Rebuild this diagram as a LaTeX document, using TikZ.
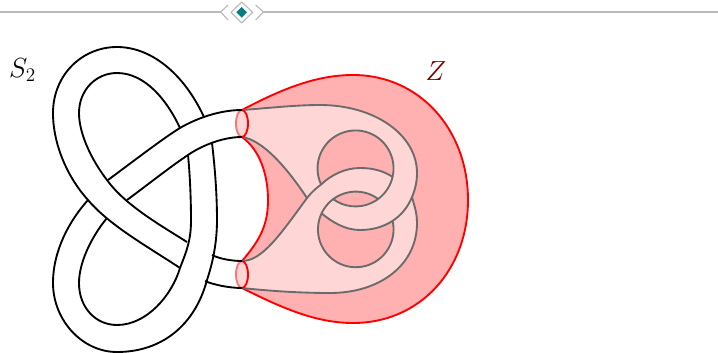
\documentclass[tikz,border=0pt]{standalone}
\usepackage{amsmath,amssymb}
\usepackage{xcolor}
\usepackage{tikz}
\usetikzlibrary{arrows.meta,calc}
\colorlet{zonefill}{red!31}
\colorlet{bandfill}{red!16}
\colorlet{bandline}{black!58}
\colorlet{orngray}{black!27}
\begin{document}
\begin{tikzpicture}[x=0.75pt,y=-0.75pt,line join=round,
  knotline/.style={line width=1.4pt,black},
  edgeline/.style={line width=1.4pt,bandline},
  zoneline/.style={line width=1.4pt,red},
  ringback/.style={line width=1.4pt,red!55},
  ornline/.style={line width=0.85pt,orngray}]
  \useasboundingbox (0,0) rectangle (718,353);
  \coordinate (RUt) at (242.000,110.000);
  \coordinate (RUb) at (242.000,137.000);
  \coordinate (RLt) at (242.000,261.000);
  \coordinate (RLb) at (242.000,288.000);
  \coordinate (CrA) at (307.000,198.000);
  \coordinate (CrB) at (321.100,184.500);
  \coordinate (CrC) at (392.600,177.000);
  \coordinate (CrD) at (412.000,197.000);
  \coordinate (CrE) at (392.400,221.000);
  \coordinate (CrF) at (321.400,213.200);
  \coordinate (LeL) at (332.800,199.000);
  \coordinate (LeR) at (378.200,199.000);
  \fill[zonefill] (RUt) .. controls (280,90) and (315,75) .. (353,75)
    .. controls (420,75) and (468,130) .. (468,200)
    .. controls (468,270) and (420,323) .. (353,323)
    .. controls (315,323) and (280,307) .. (RLb) -- (RLt)
    .. controls (260,240) and (268,225) .. (268,200)
    .. controls (268,175) and (260,150) .. (RUb) -- cycle;
  \draw[zoneline] (RUt) .. controls (280,90) and (315,75) .. (353,75)
    .. controls (420,75) and (468,130) .. (468,200)
    .. controls (468,270) and (420,323) .. (353,323)
    .. controls (315,323) and (280,307) .. (RLb);
  \draw[zoneline] (RLt) .. controls (260,240) and (268,225) .. (268,200)
    .. controls (268,175) and (260,150) .. (RUb);
  \draw[edgeline,fill=bandfill] (RUt) .. controls (270,108) and (295,105) .. (320,105)
    .. controls (375,105) and (417,135) .. (417,173)
    .. controls (417,182) and (415,190) .. (CrD)
    .. controls (414,205) and (417,212) .. (417,223)
    .. controls (417,265) and (380,293) .. (330,293)
    .. controls (300,293) and (270,291) .. (RLb) -- (RLt)
    .. controls (262,261) and (280,235) .. (CrA)
    .. controls (285,165) and (262,140) .. (RUb) -- cycle;
  \fill[zonefill] (CrB) arc (155:372.9:38) -- (CrC)
    .. controls (384,171) and (373,168) .. (360,168)
    .. controls (345,168) and (331,175) .. (CrB) -- cycle;
  \fill[zonefill] (LeL) arc (233.6:306.4:37.8) -- (LeR) arc (53.3:126.7:38) -- cycle;
  \fill[zonefill] (CrF) arc (205.6:-13:37.8) -- (CrE)
    .. controls (383.5,226.75) and (372.5,230) .. (360,230)
    .. controls (345,230) and (332,222) .. (CrF) -- cycle;
  \draw[edgeline] (CrA) .. controls (311,193) and (315,189) .. (CrB)
    .. controls (331,175) and (345,168) .. (360,168)
    .. controls (373,168) and (384,171) .. (CrC);
  \draw[edgeline] (CrD) .. controls (408,207) and (401.25,215.25) .. (CrE)
    .. controls (383.5,226.75) and (372.5,230) .. (360,230)
    .. controls (345,230) and (332,222) .. (CrF);
  \draw[edgeline] (CrB) arc (155:486.7:38);
  \draw[edgeline] (LeR) arc (306.4:-13:37.8);
  \fill[bandfill] (RUt) arc (270:630:6 and 13.5);
  \fill[bandfill] (RLt) arc (270:630:6 and 13.5);
  \draw[ringback] (RUt) arc (270:90:6 and 13.5);
  \draw[ringback] (RLt) arc (270:90:6 and 13.5);
  \draw[zoneline] (RUt) arc (270:450:6 and 13.5);
  \draw[zoneline] (RLt) arc (270:450:6 and 13.5);
  \draw[knotline] (204,117) .. controls (183,72) and (150,47) .. (117,47)
    .. controls (82,47) and (53,75) .. (53,113)
    .. controls (53,145) and (68,178) .. (88,200)
    .. controls (110,226) and (150,248) .. (180,268);
  \draw[knotline] (180,128) .. controls (167,100) and (145,73) .. (117,73)
    .. controls (96,73) and (79,90) .. (79,113)
    .. controls (79,135) and (93,162) .. (107,180)
    .. controls (125,205) and (160,225) .. (187,242);
  \draw[knotline] (88,200) .. controls (70,220) and (53,250) .. (53,283)
    .. controls (53,320) and (82,352) .. (117,352)
    .. controls (162,352) and (195,325) .. (207,280)
    .. controls (213,262) and (217,242) .. (217,220)
    .. controls (217,195) and (215,168) .. (212,143);
  \draw[knotline] (107,218) .. controls (92,236) and (79,262) .. (79,283)
    .. controls (79,308) and (96,325) .. (117,325)
    .. controls (147,325) and (172,295) .. (180,268)
    .. controls (187,250) and (191,240) .. (191,220)
    .. controls (191,200) and (190,175) .. (188,155);
  \draw[knotline] (108,180) .. controls (135,160) and (165,137) .. (180,128)
    .. controls (190,122) and (215,110) .. (RUt);
  \draw[knotline] (127,200) .. controls (150,183) and (170,167) .. (188,155)
    .. controls (198,148) and (220,137) .. (RUb);
  \draw[knotline] (212,255) .. controls (220,259) and (232,261) .. (RLt);
  \draw[knotline] (205,281) .. controls (214,285) and (230,288) .. (RLb);
  \draw[ornline] (0,12) -- (220.700,12);
  \draw[ornline] (228,5) -- (220.700,12) -- (228,20);
  \draw[ornline] (241.700,2) -- (231,12.300) -- (241.700,23) -- (252.700,12.300) -- cycle;
  \fill[teal] (241.700,7) -- (236.400,12.300) -- (241.700,17.600) -- (247,12.300) -- cycle;
  \draw[ornline] (255.700,5) -- (263.300,12) -- (255.700,20);
  \draw[ornline] (263.300,12) -- (718,12);
  \node[font=\huge] (Slabel) at (22.500,70) {$S_2$};
  \node[font=\huge,text=red!50!black] (Zlabel) at (436,71) {$Z$};
\end{tikzpicture}
\end{document}
